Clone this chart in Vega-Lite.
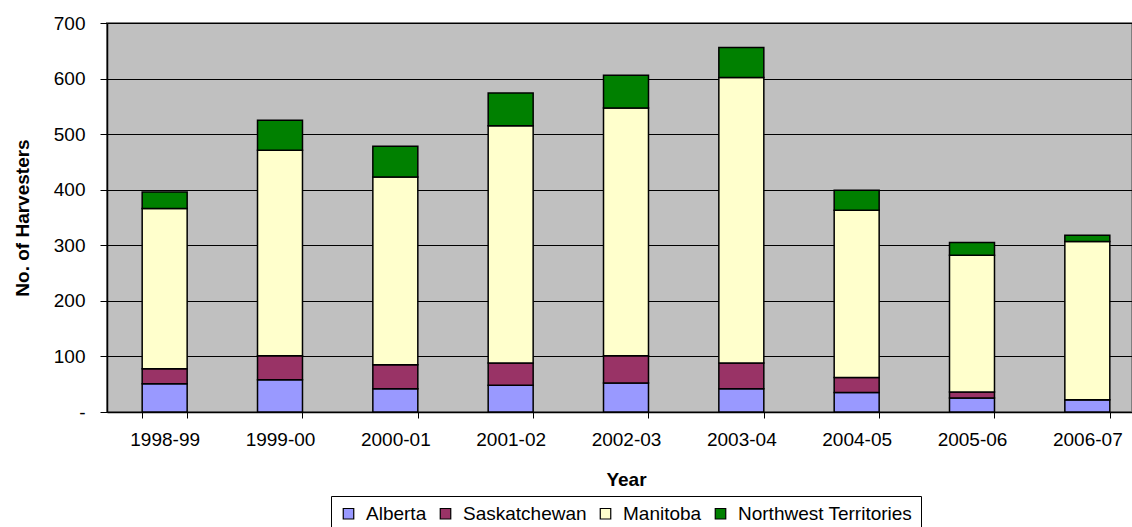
{
  "$schema": "https://vega.github.io/schema/vega-lite/v6.json",
  "width": 1025,
  "height": 389,
  "autosize": {"type": "none"},
  "padding": {"left": 107, "top": 23, "right": 0, "bottom": 115},
  "background": "white",
  "config": {
    "font": "Liberation Sans",
    "view": {"fill": "#C0C0C0", "stroke": "#808080", "strokeWidth": 2},
    "axis": {"labelColor": "black", "titleColor": "black", "domainColor": "black", "tickColor": "black", "labelFont": "Liberation Sans", "titleFont": "Liberation Sans"}
  },
  "data": {
    "values": [
      {"year": "1998-99", "region": "Alberta", "o": 1, "n": 51},
      {"year": "1998-99", "region": "Saskatchewan", "o": 2, "n": 27},
      {"year": "1998-99", "region": "Manitoba", "o": 3, "n": 288},
      {"year": "1998-99", "region": "Northwest Territories", "o": 4, "n": 30},
      {"year": "1999-00", "region": "Alberta", "o": 1, "n": 58},
      {"year": "1999-00", "region": "Saskatchewan", "o": 2, "n": 43},
      {"year": "1999-00", "region": "Manitoba", "o": 3, "n": 370},
      {"year": "1999-00", "region": "Northwest Territories", "o": 4, "n": 54},
      {"year": "2000-01", "region": "Alberta", "o": 1, "n": 42},
      {"year": "2000-01", "region": "Saskatchewan", "o": 2, "n": 43},
      {"year": "2000-01", "region": "Manitoba", "o": 3, "n": 338},
      {"year": "2000-01", "region": "Northwest Territories", "o": 4, "n": 55},
      {"year": "2001-02", "region": "Alberta", "o": 1, "n": 48},
      {"year": "2001-02", "region": "Saskatchewan", "o": 2, "n": 40},
      {"year": "2001-02", "region": "Manitoba", "o": 3, "n": 427},
      {"year": "2001-02", "region": "Northwest Territories", "o": 4, "n": 59},
      {"year": "2002-03", "region": "Alberta", "o": 1, "n": 52},
      {"year": "2002-03", "region": "Saskatchewan", "o": 2, "n": 49},
      {"year": "2002-03", "region": "Manitoba", "o": 3, "n": 446},
      {"year": "2002-03", "region": "Northwest Territories", "o": 4, "n": 59},
      {"year": "2003-04", "region": "Alberta", "o": 1, "n": 42},
      {"year": "2003-04", "region": "Saskatchewan", "o": 2, "n": 46},
      {"year": "2003-04", "region": "Manitoba", "o": 3, "n": 514},
      {"year": "2003-04", "region": "Northwest Territories", "o": 4, "n": 54},
      {"year": "2004-05", "region": "Alberta", "o": 1, "n": 35},
      {"year": "2004-05", "region": "Saskatchewan", "o": 2, "n": 27},
      {"year": "2004-05", "region": "Manitoba", "o": 3, "n": 301},
      {"year": "2004-05", "region": "Northwest Territories", "o": 4, "n": 36},
      {"year": "2005-06", "region": "Alberta", "o": 1, "n": 25},
      {"year": "2005-06", "region": "Saskatchewan", "o": 2, "n": 11},
      {"year": "2005-06", "region": "Manitoba", "o": 3, "n": 246},
      {"year": "2005-06", "region": "Northwest Territories", "o": 4, "n": 23},
      {"year": "2006-07", "region": "Alberta", "o": 1, "n": 22},
      {"year": "2006-07", "region": "Saskatchewan", "o": 2, "n": 0},
      {"year": "2006-07", "region": "Manitoba", "o": 3, "n": 285},
      {"year": "2006-07", "region": "Northwest Territories", "o": 4, "n": 11}
    ]
  },
  "mark": {"type": "bar", "stroke": "black", "strokeWidth": 1.5},
  "encoding": {
    "x": {
      "field": "year",
      "type": "nominal",
      "sort": null,
      "scale": {"range": [0, 1038], "paddingInner": 0.61, "paddingOuter": 0.305},
      "axis": {
        "title": "Year",
        "labelAngle": 0,
        "labelFontSize": 19,
        "titleFontSize": 19,
        "titleFontWeight": "bold",
        "tickBand": "extent",
        "tickSize": 6,
        "labelPadding": 12,
        "titlePadding": 21,
        "domainWidth": 1.5
      }
    },
    "y": {
      "field": "n",
      "type": "quantitative",
      "stack": "zero",
      "scale": {"domain": [0, 700], "nice": false},
      "axis": {
        "title": "No. of Harvesters",
        "values": [0, 100, 200, 300, 400, 500, 600, 700],
        "labelExpr": "datum.value == 0 ? '-' : datum.label",
        "labelFontSize": 19,
        "titleFontSize": 19,
        "titleFontWeight": "bold",
        "tickSize": 7,
        "labelPadding": 15,
        "titlePadding": 21,
        "grid": true,
        "gridColor": "black",
        "gridOpacity": 1,
        "gridWidth": 1.2,
        "domainWidth": 1.5
      }
    },
    "color": {
      "field": "region",
      "type": "nominal",
      "sort": ["Alberta", "Saskatchewan", "Manitoba", "Northwest Territories"],
      "scale": {
        "domain": ["Alberta", "Saskatchewan", "Manitoba", "Northwest Territories"],
        "range": ["#9999FF", "#993366", "#FFFFCC", "#008000"]
      },
      "legend": {
        "title": null,
        "orient": "none",
        "legendX": 224,
        "legendY": 473,
        "direction": "horizontal",
        "strokeColor": "black",
        "fillColor": "white",
        "padding": 8,
        "symbolType": "square",
        "symbolSize": 110,
        "symbolStrokeColor": "black",
        "symbolStrokeWidth": 1.2,
        "symbolOpacity": 1,
        "labelFontSize": 19,
        "labelColor": "black",
        "labelFont": "Liberation Sans",
        "labelLimit": 0,
        "labelOffset": 8,
        "columnPadding": 9
      }
    },
    "order": {"field": "o", "type": "quantitative"}
  }
}
